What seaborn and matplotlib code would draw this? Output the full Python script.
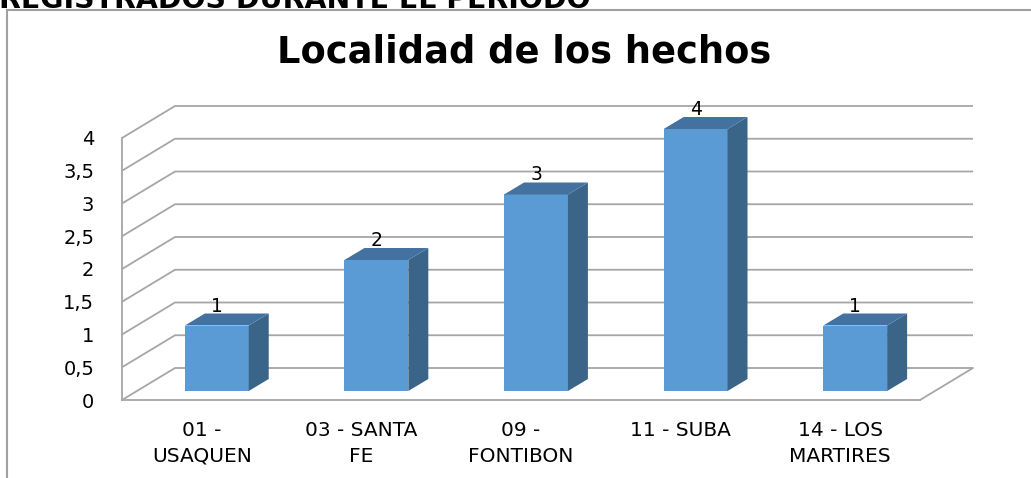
import numpy as np
import pandas as pd
import matplotlib
matplotlib.use("Agg")
import matplotlib.pyplot as plt
from matplotlib.patches import Polygon, Rectangle
import seaborn as sns

# Datos del gráfico
localidades = ["01 -\nUSAQUEN", "03 - SANTA\nFE", "09 -\nFONTIBON", "11 - SUBA", "14 - LOS\nMARTIRES"]
casos = [1, 2, 3, 4, 1]
y_ticks = [0, 0.5, 1, 1.5, 2, 2.5, 3, 3.5, 4]
y_labels = ["0", "0,5", "1", "1,5", "2", "2,5", "3", "3,5", "4"]

_FRONT = "#5B9BD5"   # cara frontal
_SIDE = "#3B6489"    # cara lateral
_TOP = "#4472A0"     # cara superior
_GRID = "#A6A6A6"
_FONT = ["DejaVu Sans"]

W, H, DPI = 1031, 478, 100

sns.set_style("white")
plt.rcParams["font.family"] = _FONT
plt.rcParams["text.color"] = "black"
plt.rcParams["xtick.color"] = "black"
plt.rcParams["ytick.color"] = "black"

fig = plt.figure(figsize=(W / DPI, H / DPI), dpi=DPI)
ax = fig.add_axes([122 / W, (H - 400) / H, 798 / W, 262 / H])

df = pd.DataFrame({"localidad": localidades, "casos": casos})
sns.barplot(data=df, x="localidad", y="casos", color=_FRONT, saturation=1,
            width=0.4, ax=ax, zorder=3, edgecolor="none")

ax.set_xlim(-0.5, len(localidades) - 0.5)
ax.set_ylim(0, 4)

# conversión píxel -> datos (efecto 3D)
px_x = (ax.get_xlim()[1] - ax.get_xlim()[0]) / 798
px_y = (ax.get_ylim()[1] - ax.get_ylim()[0]) / 262
wall_dx, wall_dy = 53 * px_x, 32 * px_y      # profundidad total
front_dx, front_dy = 15 * px_x, 9 * px_y     # plano frontal de las barras
bar_dx, bar_dy = 20 * px_x, 12 * px_y        # profundidad de la barra

x0, x1 = ax.get_xlim()

# pared trasera, pared izquierda y piso
for v in y_ticks:
    ax.plot([x0, x0 + wall_dx, x1 + wall_dx], [v, v + wall_dy, v + wall_dy],
            color=_GRID, lw=1.3, zorder=1, clip_on=False, solid_capstyle="butt")
ax.plot([x1, x1 + wall_dx], [0, wall_dy], color=_GRID, lw=1.3, zorder=1, clip_on=False)

# barras 3D
for bar, val in zip(ax.patches, casos):
    bar.set_x(bar.get_x() + front_dx)
    bar.set_y(front_dy)
    bar.set_clip_on(False)
    bx, bw = bar.get_x(), bar.get_width()
    top = front_dy + bar.get_height()
    side = Polygon([(bx + bw, front_dy), (bx + bw + bar_dx, front_dy + bar_dy),
                    (bx + bw + bar_dx, top + bar_dy), (bx + bw, top)],
                   closed=True, facecolor=_SIDE, edgecolor="none", zorder=3, clip_on=False)
    cap = Polygon([(bx, top), (bx + bar_dx, top + bar_dy),
                   (bx + bw + bar_dx, top + bar_dy), (bx + bw, top)],
                  closed=True, facecolor=_TOP, edgecolor="none", zorder=3, clip_on=False)
    ax.add_patch(side)
    ax.add_patch(cap)
    ax.text(bx + bw / 2, top + bar_dy - 2 * px_y, f"{val}", ha="center", va="bottom",
            fontsize=13.5, color="black", zorder=4, clip_on=False)

# ejes
for s in ["top", "right"]:
    ax.spines[s].set_visible(False)
for s in ["left", "bottom"]:
    ax.spines[s].set_color(_GRID)
    ax.spines[s].set_linewidth(1.3)
    ax.spines[s].set_zorder(2)

ax.set_yticks(y_ticks)
ax.set_yticklabels(y_labels, fontsize=14)
ax.set_xticks(range(len(localidades)))
ax.set_xticklabels(localidades, fontsize=14.5, linespacing=1.45)
ax.set_xticks(np.arange(len(localidades) + 1) - 0.5, minor=True)
ax.tick_params(axis="x", which="major", length=0, pad=15)
ax.tick_params(axis="x", which="minor", length=6, width=1.3, color=_GRID, direction="out")
ax.tick_params(axis="y", length=6, width=1.3, color=_GRID, labelcolor="black",
               direction="out", pad=14)
ax.tick_params(axis="x", labelcolor="black")
ax.set_xlabel("")
ax.set_ylabel("")
ax.grid(False)
ax.set_facecolor("none")

# título y encabezado
fig.text(524 / W, 1 - 52 / H, "Localidad de los hechos", ha="center", va="center",
         fontsize=26.5, fontweight="bold", color="black")
fig.text(-1 / W, 1 - 8 / H, "REGISTRADOS DURANTE EL PERIODO", ha="left", va="baseline",
         fontsize=20.4, fontweight="bold", color="black")

# borde del área del gráfico
fig.add_artist(Rectangle((7 / W, -0.1), 1.2, 1 - 10 / H + 0.1, transform=fig.transFigure,
                         fill=False, edgecolor="#A0A0A0", lw=1.5))

fig.savefig("out.png", dpi=DPI)
